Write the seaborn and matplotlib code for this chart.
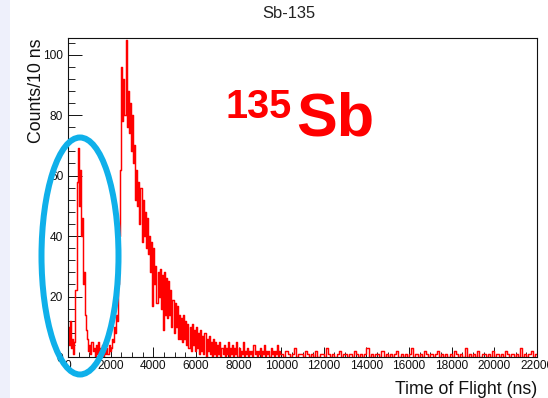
import numpy as np
import pandas as pd
import matplotlib
matplotlib.use("Agg")
import matplotlib.pyplot as plt
from matplotlib.patches import Ellipse, Rectangle
import seaborn as sns

# ---------------- data ----------------
# counts per bin, 0 - 10000 ns, 50 ns bins (band envelope of the 10 ns histogram)
counts_0_to_10us = [
    10, 4, 12, 3, 6, 1, 5, 22, 58, 69, 50, 62, 40, 46, 24, 28, 14, 9, 6, 2,        # 0-1000
    4, 1, 5, 2, 3, 0, 4, 1, 5, 1, 3, 2, 4, 0, 5, 1, 3, 1, 4, 2,                    # 1000-2000
    3, 6, 5, 10, 8, 14, 12, 24, 40, 62, 96, 78, 92, 80, 105, 76, 88, 74, 84, 68,   # 2000-3000
    80, 64, 70, 52, 62, 50, 58, 44, 56, 38, 52, 40, 48, 36, 46, 34, 40, 28, 38, 17, # 3000-4000
    36, 24, 30, 18, 28, 20, 29, 16, 27, 9, 28, 14, 26, 13, 25, 14, 22, 10, 19, 8,  # 4000-5000
    18, 10, 17, 6, 14, 6, 13, 5, 14, 6, 12, 4, 11, 3, 10, 2, 11, 4, 9, 2,          # 5000-6000
    10, 3, 8, 1, 9, 2, 7, 1, 8, 0, 6, 2, 7, 1, 5, 0, 6, 1, 5, 0,                   # 6000-7000
    4, 1, 5, 0, 3, 1, 4, 0, 3, 1, 5, 0, 3, 1, 4, 0, 3, 1, 5, 0,                    # 7000-8000
    3, 0, 2, 1, 5, 0, 2, 1, 3, 0, 2, 1, 2, 0, 4, 1, 2, 0, 2, 1,                    # 8000-9000
    3, 0, 2, 1, 4, 0, 2, 1, 2, 0, 3, 1, 2, 0, 2, 1, 4, 0, 2, 1,                    # 9000-10000
]
# counts per bin, 10000 - 22000 ns, 100 ns bins
counts_10_to_22us = [
    1, 0, 2, 1, 0, 1, 3, 0, 1, 1, 0, 2, 1, 0, 1, 0, 2, 0, 1, 1,
    0, 3, 1, 0, 1, 0, 1, 2, 0, 1,
    1, 0, 1, 0, 2, 1, 0, 1, 0, 1,
    3, 0, 1, 0, 1, 1, 0, 2, 0, 1,
    0, 1, 0, 1, 2, 0, 1, 0, 1, 0,
    1, 3, 0, 1, 0, 1, 0, 2, 1, 0,
    1, 0, 1, 2, 0, 1, 0, 1, 0, 1,
    0, 2, 1, 0, 1, 0, 3, 0, 1, 0,
    1, 0, 2, 0, 1, 1, 0, 1, 0, 2,
    0, 1, 0, 1, 0, 2, 1, 0, 1, 0,
    1, 0, 3, 0, 1, 0, 1, 2, 0, 1,
]
x_tick_values = [0, 2000, 4000, 6000, 8000, 10000, 12000, 14000, 16000, 18000, 20000, 22000]
y_tick_values = [0, 20, 40, 60, 80, 100]
title_text = "Sb-135"
x_label = "Time of Flight (ns)"
y_label = "Counts/10 ns"

# ---------------- build histogram table ----------------
edges = np.concatenate([np.arange(0, 10001, 50), np.arange(10100, 22001, 100)]).astype(float)
centers = (edges[:-1] + edges[1:]) / 2
counts = np.array(counts_0_to_10us + counts_10_to_22us, dtype=float)
df = pd.DataFrame({"tof": centers, "counts": counts})

# ---------------- figure ----------------
sns.set_style("ticks")
plt.rcParams["font.family"] = ["Liberation Sans", "DejaVu Sans"]

W, H = 548, 398
fig = plt.figure(figsize=(W / 100, H / 100), dpi=100)
fig.patch.set_facecolor("white")

# light lavender strip at the far left
fig.add_artist(Rectangle((0, 0), 10 / W, 1, transform=fig.transFigure,
                         facecolor="#eef0fb", edgecolor="none", zorder=0))

ax_l, ax_r, ax_t, ax_b = 68, 537, 38, 357
ax = fig.add_axes([ax_l / W, 1 - ax_b / H, (ax_r - ax_l) / W, (ax_b - ax_t) / H])

sns.histplot(data=df, x="tof", weights="counts", bins=edges.tolist(), element="step",
             fill=False, color="#ff0000", linewidth=1.05, ax=ax, legend=False)

ax.set_xlim(0, 22000)
ax.set_ylim(0, 105.5)

ax.set_xticks(x_tick_values)
ax.set_xticklabels([str(v) for v in x_tick_values])
ax.set_xticks(np.arange(0, 22001, 500), minor=True)
ax.set_yticks(y_tick_values)
ax.set_yticklabels([str(v) for v in y_tick_values])
ax.set_yticks(np.arange(0, 105, 4), minor=True)

ax.tick_params(axis="x", which="major", direction="in", length=6.9, width=0.7,
               labelsize=8.6, pad=2.5, colors="#111111")
ax.tick_params(axis="x", which="minor", direction="in", length=3.5, width=0.7)
ax.tick_params(axis="y", which="major", direction="in", length=10, width=0.7,
               labelsize=8.6, pad=3.5, colors="#111111")
ax.tick_params(axis="y", which="minor", direction="in", length=5, width=0.7)
ax.tick_params(top=False, right=False)
for s in ax.spines.values():
    s.set_visible(True)
    s.set_color("#111111")
    s.set_linewidth(0.8)

ax.set_xlabel(x_label, fontsize=12.8, loc="right", labelpad=6, color="#111111")
ax.set_ylabel(y_label, fontsize=12.8, loc="top", labelpad=-1, color="#111111")

fig.text(289 / W, 1 - 13 / H, title_text, fontsize=11.9, ha="center", va="center",
         color="#222222")

# red isotope annotation
fig.text(225 / W, 1 - 118 / H, "135", fontsize=28.5, fontweight="bold",
         color="#ff0000", ha="left", va="baseline")
fig.text(296 / W, 1 - 136 / H, "Sb", fontsize=44, fontweight="bold",
         color="#ff0000", ha="left", va="baseline")

# blue highlight ellipse
fig.add_artist(Ellipse((80 / W, 1 - 256 / H), 77 / W, 237 / H,
                       transform=fig.transFigure, fill=False,
                       edgecolor="#0fb0ea", linewidth=6 * 0.72, zorder=5))

fig.savefig("out.png", dpi=100)
